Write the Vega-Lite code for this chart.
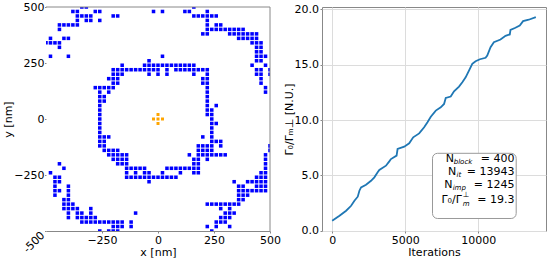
{
"$schema": "https://vega.github.io/schema/vega-lite/v6.json",
"padding": {"left": 2, "top": 1, "right": 0, "bottom": 0},
"background": "white",
"bounds": "flush",
"spacing": 52,
"config": {
  "font": "DejaVu Sans",
  "view": {"stroke": null},
  "axis": {"labelFont": "DejaVu Sans", "titleFont": "DejaVu Sans", "labelFontSize": 11, "titleFontSize": 11, "titleFontWeight": "normal", "labelColor": "#000", "titleColor": "#000", "tickColor": "#888", "domainColor": "#888", "labelFlush": false, "labelOverlap": false, "grid": false, "tickSize": 2, "labelPadding": 1}
},
"datasets": {
  "blocks": [
{"x":-340,"y":500},{"x":-320,"y":500},{"x":160,"y":500},
{"x":-380,"y":480},{"x":-360,"y":480},{"x":-280,"y":480},{"x":-260,"y":480},{"x":-20,"y":480},{"x":20,"y":480},{"x":120,"y":480},{"x":140,"y":480},{"x":220,"y":480},
{"x":-360,"y":460},{"x":-340,"y":460},{"x":-320,"y":460},{"x":-300,"y":460},{"x":-200,"y":460},{"x":-180,"y":460},{"x":160,"y":460},{"x":180,"y":460},{"x":200,"y":460},{"x":220,"y":460},{"x":240,"y":460},{"x":260,"y":460},
{"x":-360,"y":440},{"x":-320,"y":440},{"x":-300,"y":440},{"x":-260,"y":440},{"x":220,"y":440},
{"x":-440,"y":420},{"x":-420,"y":420},{"x":-400,"y":420},{"x":-380,"y":420},{"x":-360,"y":420},{"x":220,"y":420},{"x":260,"y":420},{"x":280,"y":420},
{"x":-440,"y":400},{"x":220,"y":400},{"x":240,"y":400},{"x":260,"y":400},{"x":280,"y":400},{"x":300,"y":400},{"x":320,"y":400},{"x":340,"y":400},{"x":360,"y":400},{"x":380,"y":400},
{"x":200,"y":380},{"x":220,"y":380},{"x":320,"y":380},{"x":340,"y":380},{"x":360,"y":380},{"x":380,"y":380},{"x":400,"y":380},{"x":420,"y":380},{"x":440,"y":380},
{"x":-480,"y":360},{"x":-420,"y":360},{"x":-400,"y":360},{"x":360,"y":360},{"x":380,"y":360},{"x":400,"y":360},{"x":420,"y":360},{"x":440,"y":360},
{"x":-500,"y":340},{"x":-480,"y":340},{"x":-460,"y":340},{"x":-440,"y":340},{"x":420,"y":340},{"x":440,"y":340},{"x":460,"y":340},
{"x":-440,"y":320},{"x":440,"y":320},{"x":460,"y":320},
{"x":440,"y":300},{"x":460,"y":300},
{"x":-480,"y":280},{"x":-400,"y":280},{"x":20,"y":280},{"x":440,"y":280},{"x":460,"y":280},{"x":480,"y":280},
{"x":-40,"y":260},{"x":440,"y":260},{"x":460,"y":260},
{"x":-160,"y":240},{"x":-60,"y":240},{"x":-40,"y":240},{"x":-20,"y":240},{"x":0,"y":240},{"x":20,"y":240},{"x":40,"y":240},{"x":60,"y":240},{"x":80,"y":240},{"x":100,"y":240},{"x":120,"y":240},{"x":140,"y":240},{"x":160,"y":240},{"x":420,"y":240},{"x":480,"y":240},
{"x":-200,"y":220},{"x":-180,"y":220},{"x":-160,"y":220},{"x":-140,"y":220},{"x":-120,"y":220},{"x":-100,"y":220},{"x":-80,"y":220},{"x":-60,"y":220},{"x":-40,"y":220},{"x":-20,"y":220},{"x":0,"y":220},{"x":40,"y":220},{"x":80,"y":220},{"x":100,"y":220},{"x":120,"y":220},{"x":140,"y":220},{"x":160,"y":220},{"x":180,"y":220},{"x":200,"y":220},{"x":220,"y":220},{"x":440,"y":220},{"x":460,"y":220},{"x":500,"y":220},
{"x":-200,"y":200},{"x":-180,"y":200},{"x":-160,"y":200},{"x":-40,"y":200},{"x":0,"y":200},{"x":40,"y":200},{"x":160,"y":200},{"x":220,"y":200},{"x":440,"y":200},{"x":460,"y":200},{"x":500,"y":200},
{"x":-220,"y":180},{"x":-200,"y":180},{"x":-180,"y":180},{"x":200,"y":180},{"x":220,"y":180},{"x":460,"y":180},
{"x":-200,"y":160},{"x":-180,"y":160},{"x":200,"y":160},{"x":220,"y":160},{"x":460,"y":160},
{"x":-280,"y":140},{"x":-260,"y":140},{"x":-240,"y":140},{"x":-220,"y":140},{"x":-200,"y":140},{"x":220,"y":140},{"x":480,"y":140},
{"x":-260,"y":120},{"x":-220,"y":120},{"x":220,"y":120},{"x":480,"y":120},
{"x":-260,"y":100},{"x":-240,"y":100},{"x":220,"y":100},
{"x":-260,"y":80},{"x":-240,"y":80},{"x":220,"y":80},
{"x":-260,"y":60},{"x":220,"y":60},{"x":260,"y":60},
{"x":-260,"y":40},{"x":220,"y":40},{"x":240,"y":40},
{"x":-260,"y":20},{"x":220,"y":20},{"x":240,"y":20},
{"x":-260,"y":0},{"x":240,"y":0},
{"x":-260,"y":-20},{"x":240,"y":-20},{"x":260,"y":-20},
{"x":-260,"y":-40},{"x":240,"y":-40},
{"x":-260,"y":-60},{"x":240,"y":-60},
{"x":-260,"y":-80},{"x":-240,"y":-80},{"x":-220,"y":-80},{"x":200,"y":-80},{"x":240,"y":-80},
{"x":-260,"y":-100},{"x":-240,"y":-100},{"x":240,"y":-100},{"x":260,"y":-100},{"x":280,"y":-100},
{"x":-260,"y":-120},{"x":-240,"y":-120},{"x":180,"y":-120},{"x":200,"y":-120},{"x":220,"y":-120},{"x":240,"y":-120},{"x":280,"y":-120},{"x":500,"y":-120},
{"x":-240,"y":-140},{"x":-220,"y":-140},{"x":-200,"y":-140},{"x":-180,"y":-140},{"x":180,"y":-140},{"x":200,"y":-140},{"x":220,"y":-140},{"x":240,"y":-140},{"x":500,"y":-140},
{"x":-220,"y":-160},{"x":-200,"y":-160},{"x":-180,"y":-160},{"x":-160,"y":-160},{"x":-140,"y":-160},{"x":140,"y":-160},{"x":180,"y":-160},{"x":200,"y":-160},{"x":220,"y":-160},{"x":240,"y":-160},{"x":260,"y":-160},{"x":280,"y":-160},{"x":300,"y":-160},{"x":480,"y":-160},
{"x":-200,"y":-180},{"x":-180,"y":-180},{"x":-160,"y":-180},{"x":-140,"y":-180},{"x":160,"y":-180},{"x":180,"y":-180},{"x":220,"y":-180},{"x":480,"y":-180},
{"x":-440,"y":-200},{"x":-180,"y":-200},{"x":-160,"y":-200},{"x":-140,"y":-200},{"x":160,"y":-200},{"x":180,"y":-200},{"x":480,"y":-200},
{"x":-420,"y":-220},{"x":-140,"y":-220},{"x":-120,"y":-220},{"x":-100,"y":-220},{"x":-80,"y":-220},{"x":-60,"y":-220},{"x":40,"y":-220},{"x":60,"y":-220},{"x":80,"y":-220},{"x":100,"y":-220},{"x":120,"y":-220},{"x":140,"y":-220},{"x":160,"y":-220},{"x":180,"y":-220},{"x":480,"y":-220},
{"x":-480,"y":-240},{"x":-140,"y":-240},{"x":-100,"y":-240},{"x":-60,"y":-240},{"x":-40,"y":-240},{"x":20,"y":-240},{"x":100,"y":-240},{"x":160,"y":-240},{"x":180,"y":-240},{"x":460,"y":-240},{"x":480,"y":-240},
{"x":-460,"y":-260},{"x":-440,"y":-260},{"x":-140,"y":-260},{"x":-120,"y":-260},{"x":-100,"y":-260},{"x":-80,"y":-260},{"x":-60,"y":-260},{"x":-40,"y":-260},{"x":-20,"y":-260},{"x":0,"y":-260},{"x":20,"y":-260},{"x":40,"y":-260},{"x":60,"y":-260},{"x":80,"y":-260},{"x":440,"y":-260},{"x":460,"y":-260},{"x":480,"y":-260},
{"x":-460,"y":-280},{"x":-440,"y":-280},{"x":-40,"y":-280},{"x":340,"y":-280},{"x":400,"y":-280},{"x":420,"y":-280},{"x":440,"y":-280},{"x":460,"y":-280},{"x":480,"y":-280},
{"x":-460,"y":-300},{"x":-400,"y":-300},{"x":360,"y":-300},{"x":380,"y":-300},{"x":440,"y":-300},{"x":460,"y":-300},{"x":480,"y":-300},
{"x":-460,"y":-320},{"x":-440,"y":-320},{"x":-400,"y":-320},{"x":360,"y":-320},{"x":380,"y":-320},{"x":400,"y":-320},{"x":420,"y":-320},{"x":440,"y":-320},{"x":460,"y":-320},{"x":480,"y":-320},
{"x":-460,"y":-340},{"x":-400,"y":-340},{"x":360,"y":-340},{"x":380,"y":-340},{"x":400,"y":-340},
{"x":-420,"y":-360},{"x":-400,"y":-360},{"x":360,"y":-360},{"x":380,"y":-360},
{"x":-420,"y":-380},{"x":-400,"y":-380},{"x":-380,"y":-380},{"x":220,"y":-380},{"x":240,"y":-380},{"x":260,"y":-380},{"x":280,"y":-380},{"x":300,"y":-380},{"x":320,"y":-380},{"x":340,"y":-380},{"x":360,"y":-380},
{"x":-420,"y":-400},{"x":-400,"y":-400},{"x":-380,"y":-400},{"x":-360,"y":-400},{"x":-300,"y":-400},{"x":280,"y":-400},{"x":320,"y":-400},
{"x":-400,"y":-420},{"x":-360,"y":-420},{"x":-340,"y":-420},{"x":-300,"y":-420},{"x":-100,"y":-420},{"x":300,"y":-420},{"x":320,"y":-420},{"x":340,"y":-420},
{"x":-400,"y":-440},{"x":-360,"y":-440},{"x":-340,"y":-440},{"x":-320,"y":-440},{"x":-300,"y":-440},{"x":-280,"y":-440},{"x":280,"y":-440},{"x":300,"y":-440},{"x":320,"y":-440},
{"x":-340,"y":-460},{"x":-320,"y":-460},{"x":-300,"y":-460},{"x":-280,"y":-460},{"x":-260,"y":-460},{"x":-240,"y":-460},{"x":-220,"y":-460},{"x":-200,"y":-460},{"x":-180,"y":-460},{"x":-160,"y":-460},{"x":-120,"y":-460},{"x":260,"y":-460},{"x":280,"y":-460},{"x":300,"y":-460},
{"x":-200,"y":-480},{"x":-180,"y":-480},{"x":-160,"y":-480},{"x":-120,"y":-480},{"x":220,"y":-480},{"x":260,"y":-480},{"x":320,"y":-480},
{"x":-260,"y":-500},{"x":-220,"y":-500},{"x":-200,"y":-500},{"x":-180,"y":-500},{"x":240,"y":-500}
  ],
  "source": [{"x":0,"y":20},{"x":-20,"y":0},{"x":0,"y":0},{"x":20,"y":0},{"x":0,"y":-20}],
  "corner": [{"x":-500,"y":-500,"t":"-500"}],
  "curve": [
{"it":0,"g":0.9},{"it":500,"g":1.36},{"it":955,"g":1.81},{"it":1296,"g":2.26},{"it":1523,"g":2.71},{"it":1750,"g":3.08},{"it":1864,"g":3.62},{"it":1977,"g":3.92},{"it":2318,"g":4.16},{"it":2660,"g":4.52},{"it":2887,"g":4.83},{"it":3114,"g":5.28},{"it":3228,"g":5.49},{"it":3683,"g":5.88},{"it":3910,"g":6.27},{"it":4024,"g":6.48},{"it":4410,"g":6.79},{"it":4478,"g":7.39},{"it":4933,"g":7.6},{"it":5274,"g":7.9},{"it":5547,"g":8.44},{"it":5956,"g":8.8},{"it":6297,"g":9.35},{"it":6524,"g":9.8},{"it":6752,"g":10.3},{"it":7093,"g":10.86},{"it":7434,"g":11.16},{"it":7661,"g":11.46},{"it":7775,"g":12.0},{"it":8116,"g":12.13},{"it":8343,"g":12.6},{"it":8684,"g":13.03},{"it":8911,"g":13.42},{"it":9139,"g":13.87},{"it":9366,"g":14.48},{"it":9593,"g":15.08},{"it":9820,"g":15.32},{"it":10115,"g":15.5},{"it":10503,"g":15.63},{"it":10617,"g":15.84},{"it":10844,"g":16.59},{"it":11071,"g":17.04},{"it":11526,"g":17.28},{"it":11867,"g":17.62},{"it":12161,"g":17.74},{"it":12208,"g":18.16},{"it":12549,"g":18.34},{"it":12843,"g":18.55},{"it":13071,"g":18.94},{"it":13457,"g":19.07},{"it":13943,"g":19.3}
  ],
  "box": [{"x":6869,"x2":12599,"y":7.0,"y2":1.11}],
  "main": [{"x":7775,"y":6.46,"t":"N"},{"x":7930,"y":5.28,"t":"N"},{"x":7672,"y":4.14,"t":"N"},{"x":7481,"y":2.78,"t":"Γ₀/Γ"}],
  "sub": [{"x":8322,"y":6.2,"t":"block"},{"x":8520,"y":5.04,"t":"it"},{"x":8250,"y":3.9,"t":"imp"},{"x":8936,"y":2.42,"t":"m"}],
  "sup": [{"x":8936,"y":3.25,"t":"⊥"}],
  "rest": [{"x":12488,"y":6.46,"t":"=  400"},{"x":12488,"y":5.28,"t":"= 13943"},{"x":12488,"y":4.14,"t":"= 1245"},{"x":12488,"y":2.78,"t":"=  19.3"}]
},
"hconcat": [
  {
    "width": 224, "height": 224,
    "view": {"stroke": null},
    "encoding": {
      "x": {"field": "x", "type": "quantitative", "scale": {"domain": [-500, 500], "nice": false, "zero": false},
            "axis": {"title": "x [nm]", "values": [-250, 0, 250, 500], "domain": true, "titlePadding": 1}},
      "y": {"field": "y", "type": "quantitative", "scale": {"domain": [-500, 500], "nice": false, "zero": false},
            "axis": {"title": "y [nm]", "values": [-500, -250, 0, 250, 500], "domain": false, "titlePadding": 0, "tickSize": 1.5, "labelPadding": 0.5,
                     "labelExpr": "datum.value === -500 ? '' : datum.label"}}
    },
    "layer": [
      {"data": {"name": "blocks"}, "mark": {"type": "square", "size": 12.5, "color": "#0000ff", "opacity": 1, "clip": true}},
      {"data": {"name": "source"}, "mark": {"type": "square", "size": 9, "color": "#ffa500", "opacity": 1}},
      {"data": {"values": [{"x": -500, "x2": 500, "y": 500}]}, "mark": {"type": "rule", "color": "#888", "strokeWidth": 1},
       "encoding": {"x2": {"field": "x2"}}},
      {"data": {"values": [{"x": 500, "y": -500, "y2": 500}]}, "mark": {"type": "rule", "color": "#888", "strokeWidth": 1},
       "encoding": {"y2": {"field": "y2"}}},
      {"data": {"name": "corner"}, "mark": {"type": "text", "angle": -45, "align": "right", "baseline": "middle", "dx": -4, "fontSize": 11, "color": "#000"},
       "encoding": {"text": {"field": "t"}}}
    ]
  },
  {
    "width": 224, "height": 224,
    "view": {"stroke": "#888"},
    "layer": [
      {"data": {"name": "curve"}, "mark": {"type": "line", "color": "#1f77b4", "strokeWidth": 1.8},
       "encoding": {
         "x": {"field": "it", "type": "quantitative", "scale": {"domain": [-697, 14640], "nice": false, "zero": false},
               "axis": {"title": "Iterations", "values": [0, 5000, 10000], "format": "d", "grid": true, "gridColor": "#dcdcdc", "domain": false, "titlePadding": 1}},
         "y": {"field": "g", "type": "quantitative", "scale": {"domain": [-0.02, 20.22], "nice": false, "zero": false},
               "axis": {"title": "Γ₀/Γₘ⊥ [N.U.]", "values": [0, 2.5, 5, 7.5, 10, 12.5, 15, 17.5, 20], "format": ".1f", "grid": true, "gridColor": "#dcdcdc", "domain": false, "labelPadding": 1.5, "titlePadding": 0}}
       }},
      {"data": {"name": "box"}, "mark": {"type": "rect", "fill": "white", "stroke": "#999", "strokeWidth": 1, "cornerRadius": 5},
       "encoding": {"x": {"field": "x", "type": "quantitative"}, "x2": {"field": "x2"}, "y": {"field": "y", "type": "quantitative"}, "y2": {"field": "y2"}}},
      {"data": {"name": "main"}, "mark": {"type": "text", "align": "left", "baseline": "middle", "fontSize": 11, "color": "#000"},
       "encoding": {"x": {"field": "x", "type": "quantitative"}, "y": {"field": "y", "type": "quantitative"}, "text": {"field": "t"}}},
      {"data": {"name": "sub"}, "mark": {"type": "text", "align": "left", "baseline": "middle", "fontSize": 7, "fontStyle": "italic", "color": "#000"},
       "encoding": {"x": {"field": "x", "type": "quantitative"}, "y": {"field": "y", "type": "quantitative"}, "text": {"field": "t"}}},
      {"data": {"name": "sup"}, "mark": {"type": "text", "align": "left", "baseline": "middle", "fontSize": 7.5, "color": "#000"},
       "encoding": {"x": {"field": "x", "type": "quantitative"}, "y": {"field": "y", "type": "quantitative"}, "text": {"field": "t"}}},
      {"data": {"name": "rest"}, "mark": {"type": "text", "align": "right", "baseline": "middle", "fontSize": 11, "color": "#000"},
       "encoding": {"x": {"field": "x", "type": "quantitative"}, "y": {"field": "y", "type": "quantitative"}, "text": {"field": "t"}}}
    ]
  }
]
}
